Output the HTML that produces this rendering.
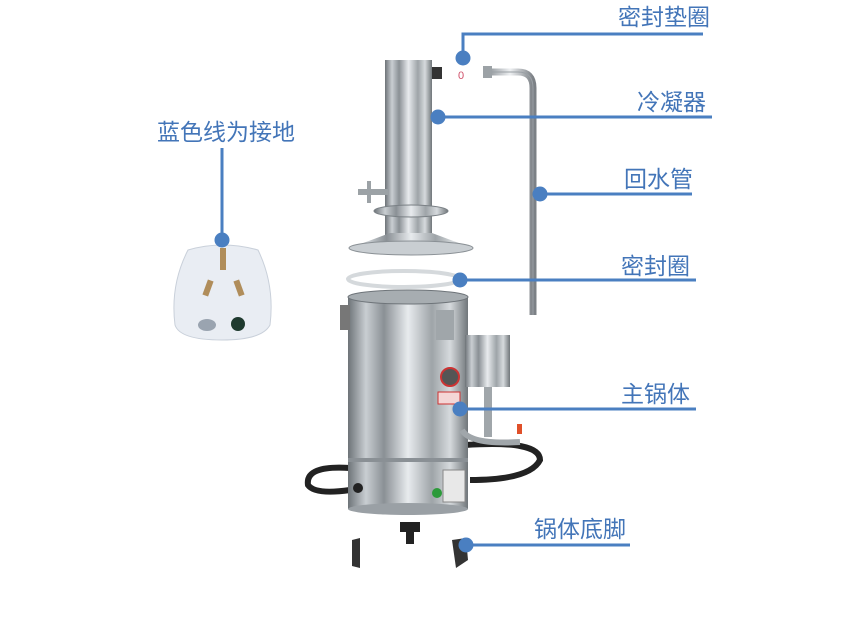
<!DOCTYPE html>
<html><head><meta charset="utf-8"><style>
body{margin:0;background:#fff;width:850px;height:619px;overflow:hidden}
svg{display:block}
text{font-family:"Liberation Sans","Noto Sans CJK SC",sans-serif;font-size:23px;fill:#4375b8}
</style></head><body>
<svg width="850" height="619" viewBox="0 0 850 619">
<defs>
<linearGradient id="m" x1="0" x2="1" y1="0" y2="0">
<stop offset="0" stop-color="#6d7378"/><stop offset="0.15" stop-color="#c9ced2"/><stop offset="0.3" stop-color="#8a9095"/><stop offset="0.5" stop-color="#e8ebee"/><stop offset="0.7" stop-color="#9ea4a8"/><stop offset="0.85" stop-color="#d6dadd"/><stop offset="1" stop-color="#70767a"/>
</linearGradient>
<linearGradient id="t" x1="0" x2="1"><stop offset="0" stop-color="#8a9095"/><stop offset="0.5" stop-color="#eef0f2"/><stop offset="1" stop-color="#7c8186"/></linearGradient>
</defs>
<path d="M487 72 H518 Q533 72 533 88 V315" fill="none" stroke="url(#t)" stroke-width="7"/>
<path d="M487 72 H518 Q533 72 533 88 V315" fill="none" stroke="#9aa0a5" stroke-width="1"/>
<rect x="483" y="66" width="9" height="12" fill="#9ca2a6"/>
<text x="458" y="79" style="font-size:11px;fill:#d0506a">0</text>
<rect x="385" y="60" width="47" height="175" fill="url(#m)"/>
<rect x="432" y="67" width="10" height="12" fill="#333"/>
<rect x="358" y="189" width="30" height="6" fill="#9ca2a6"/>
<rect x="367" y="181" width="4" height="22" fill="#9ca2a6"/>
<ellipse cx="411" cy="211" rx="37" ry="6" fill="url(#m)" stroke="#7a8085"/>
<path d="M390 233 L350 248 Q410 262 472 248 L432 233 Z" fill="url(#m)"/>
<ellipse cx="411" cy="248" rx="62" ry="7" fill="#c9ced2" stroke="#8a9095"/>
<ellipse cx="404" cy="279" rx="56" ry="8" fill="none" stroke="#d5d9dc" stroke-width="4"/>
<path d="M350 468 Q305 465 308 485 Q315 495 350 490 M465 445 Q540 440 540 460 Q530 480 470 480" fill="none" stroke="#222" stroke-width="6"/>
<rect x="348" y="297" width="120" height="212" fill="url(#m)"/>
<ellipse cx="408" cy="297" rx="60" ry="7" fill="#a7adb1" stroke="#6e7479"/>
<rect x="348" y="458" width="120" height="4" fill="#8a9095"/>
<ellipse cx="408" cy="509" rx="60" ry="6" fill="#9aa0a5"/>
<rect x="340" y="305" width="10" height="25" fill="#777"/>
<rect x="436" y="310" width="18" height="30" fill="#a0a6aa"/>
<circle cx="450" cy="377" r="9" fill="#555" stroke="#c33" stroke-width="2"/>
<rect x="438" y="392" width="22" height="12" fill="#f4d6d6" stroke="#c33"/>
<circle cx="437" cy="493" r="5" fill="#2c9a3a"/>
<circle cx="358" cy="488" r="5" fill="#222"/>
<rect x="443" y="470" width="22" height="32" fill="#e8e8e8" stroke="#888"/>
<rect x="465" y="335" width="45" height="52" fill="url(#m)"/>
<rect x="484" y="387" width="8" height="50" fill="#a0a6aa"/>
<path d="M462 430 Q470 445 520 442" fill="none" stroke="#a0a6aa" stroke-width="6"/>
<rect x="517" y="424" width="5" height="10" fill="#e0502a"/>
<rect x="400" y="522" width="20" height="10" fill="#222"/><rect x="406" y="530" width="8" height="14" fill="#222"/>
<path d="M352 540 L360 538 L360 568 L352 566 Z" fill="#333"/>
<path d="M452 540 L466 538 L468 560 L456 568 Z" fill="#333"/>
<path d="M188 250 Q222 240 258 250 Q275 285 270 325 Q262 340 222 340 Q180 340 175 325 Q170 285 188 250 Z" fill="#e9edf3" stroke="#c9d0da"/>
<rect x="220" y="248" width="6" height="22" fill="#b08d5a"/>
<rect x="205" y="280" width="6" height="16" fill="#b08d5a" transform="rotate(20 208 288)"/>
<rect x="236" y="280" width="6" height="16" fill="#b08d5a" transform="rotate(-20 239 288)"/>
<ellipse cx="207" cy="325" rx="9" ry="6" fill="#9aa4b0"/>
<circle cx="238" cy="324" r="7" fill="#1f3a2f"/>
<g stroke="#4a7fc1" stroke-width="3" fill="none">
<path d="M703 34 H463 V58"/><path d="M712 117 H438"/><path d="M692 194 H540"/><path d="M696 280 H460"/><path d="M696 409 H460"/><path d="M630 545 H466"/><path d="M222 148 V240"/>
</g>
<g fill="#4a7fc1">
<circle cx="463" cy="58" r="7.5"/><circle cx="438" cy="117" r="7.5"/><circle cx="540" cy="194" r="7.5"/><circle cx="460" cy="280" r="7.5"/><circle cx="460" cy="409" r="7.5"/><circle cx="466" cy="545" r="7.5"/><circle cx="222" cy="240" r="7.5"/>
</g>
<text x="618" y="25">密封垫圈</text>
<text x="637" y="110">冷凝器</text>
<text x="624" y="187">回水管</text>
<text x="621" y="274">密封圈</text>
<text x="621" y="402">主锅体</text>
<text x="534" y="537">锅体底脚</text>
<text x="157" y="140">蓝色线为接地</text>
</svg>
</body></html>
